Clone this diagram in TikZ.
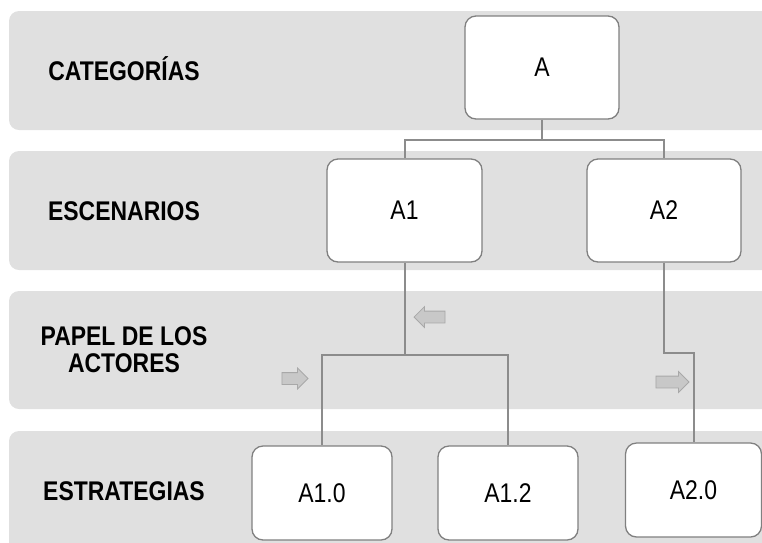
\documentclass[tikz,border=0pt]{standalone}
\usepackage{fontspec}
\setmainfont{Liberation Sans}[FakeStretch=0.85]
\usetikzlibrary{shapes.arrows}
\definecolor{bandgray}{RGB}{224,224,224}
\definecolor{boxline}{RGB}{128,128,128}
\definecolor{linkgray}{RGB}{140,140,140}
\definecolor{hintfill}{RGB}{200,200,200}
\definecolor{hintline}{RGB}{168,168,168}
\begin{document}
\begin{tikzpicture}[x=1pt,y=-1pt,
  band/.style={fill=bandgray,rounded corners=10pt},
  level/.style={font=\fontsize{27}{27}\selectfont\bfseries,align=center,anchor=base},
  card/.style={draw=boxline,line width=1.3pt,fill=white,rounded corners=11pt,font=\fontsize{27}{27}\selectfont},
  link/.style={draw=linkgray,line width=2pt},
  hint/.style={single arrow,draw=hintline,fill=hintfill,line width=.8pt,inner sep=0pt,
               single arrow head extend=4.5pt}]
\useasboundingbox (0,0) rectangle (762,542);
% bands
\fill[band] (9,11)  rectangle (790,130);
\fill[band] (9,151) rectangle (790,270);
\fill[band] (9,291) rectangle (790,409);
\fill[band] (9,431) rectangle (790,580);
\node[level] (lcat) at (124,80)  {CATEGORÍAS};
\node[level] (lesc) at (124,220) {ESCENARIOS};
\node[level] (lpap) at (124,372) {PAPEL DE LOS\\ACTORES};
\node[level] (lest) at (124,500) {ESTRATEGIAS};
% boxes
\node[card,minimum width=154pt,minimum height=103pt] (a)   at (542,67.5)   {A};
\node[card,minimum width=155pt,minimum height=103pt] (a1)  at (404.5,210.5) {A1};
\node[card,minimum width=154pt,minimum height=103pt] (a2)  at (664,210.5)   {A2};
\node[card,minimum width=140pt,minimum height=94pt]  (a10) at (322,493)     {A1.0};
\node[card,minimum width=140pt,minimum height=94pt]  (a12) at (508,493)     {A1.2};
\node[card,minimum width=136pt,minimum height=94pt]  (a20) at (693.5,490)   {A2.0};
% links
\draw[link] (a.south) -- ++(0,20) -| (a1.north)
            (a.south) ++(0,20) -| (a2.north);
\draw[link] (a1.south) -- ++(0,92) -| (a10.north)
            (a1.south) ++(0,92) -| (a12.north);
\draw[link] (a2.south) -- ++(0,90) -| (a20.north);
% hints
\node[hint,minimum height=31pt,shape border rotate=180] (h1) at (432.5,317) {\rule{0pt}{11pt}};
\node[hint,minimum height=26pt] (h2) at (292,378.5) {\rule{0pt}{11pt}};
\node[hint,minimum height=33pt] (h3) at (669.5,382) {\rule{0pt}{11pt}};
\end{tikzpicture}
\end{document}
